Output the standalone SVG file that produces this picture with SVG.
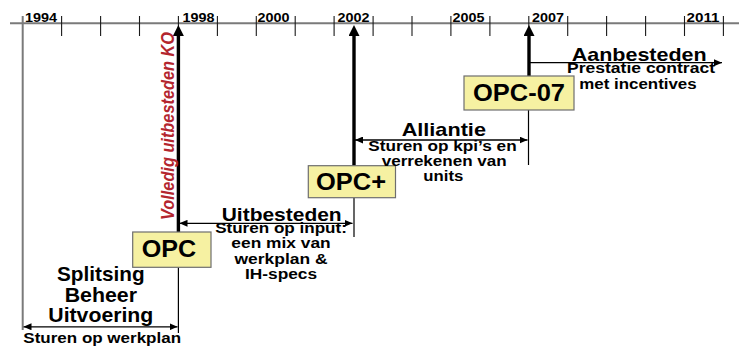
<svg xmlns="http://www.w3.org/2000/svg" width="739" height="350" viewBox="0 0 739 350">
  <defs>
    <!-- large head for the milestone arrows -->
    <marker id="bigHead" markerUnits="userSpaceOnUse" markerWidth="11" markerHeight="11" refX="1" refY="5.5" orient="auto">
      <path d="M0,0 L11,5.5 L0,11 z" fill="#000"/>
    </marker>
    <!-- small head for the period arrows -->
    <marker id="smallHead" markerUnits="userSpaceOnUse" markerWidth="8" markerHeight="7" refX="8" refY="3.5" orient="auto-start-reverse">
      <path d="M0,0 L8,3.5 L0,7 z" fill="#000"/>
    </marker>
    <style>
      .axis { stroke: #7a7a7a; stroke-width: 2; fill: none; }
      .tick { stroke: #1a1a1a; stroke-width: 1.1; }
      .yr { font: bold 13px "Liberation Sans", Arial, sans-serif; fill: #000; }
      .box { fill: #f6f1a2; stroke: #6e6e6e; stroke-width: 1.2; }
      .boxt { font: bold 24px "Liberation Sans", Arial, sans-serif; fill: #000; text-anchor: middle; }
      .thick { stroke: #000; stroke-width: 3.4; fill: none; marker-end: url(#bigHead); }
      .thin { stroke: #000; stroke-width: 1.2; fill: none; }
      .span { stroke: #000; stroke-width: 1.3; fill: none; marker-start: url(#smallHead); marker-end: url(#smallHead); }
      .one { stroke: #000; stroke-width: 1.3; fill: none; marker-end: url(#smallHead); }
      .h { font: bold 19px "Liberation Sans", Arial, sans-serif; fill: #000; text-anchor: middle; }
      .s { font: bold 14.5px "Liberation Sans", Arial, sans-serif; fill: #000; text-anchor: middle; }
      .big { font: bold 20.5px "Liberation Sans", Arial, sans-serif; fill: #000; text-anchor: middle; }
      .red { font: italic bold 16.5px "Liberation Sans", Arial, sans-serif; fill: #b3262e; }
    </style>
  </defs>

  <!-- time axis -->
  <g id="axis">
    <line class="axis" x1="10" y1="23.3" x2="739" y2="23.3"/>
    <line class="axis" x1="22.7" y1="16" x2="22.7" y2="330"/>
    <g class="tick">
      <line x1="61.6" y1="16" x2="61.6" y2="36"/>
      <line x1="100.6" y1="16" x2="100.6" y2="36"/>
      <line x1="139.5" y1="16" x2="139.5" y2="36"/>
      <line x1="178.4" y1="16" x2="178.4" y2="36"/>
      <line x1="217.4" y1="16" x2="217.4" y2="36"/>
      <line x1="256.3" y1="16" x2="256.3" y2="36"/>
      <line x1="295.2" y1="16" x2="295.2" y2="36"/>
      <line x1="334.1" y1="16" x2="334.1" y2="36"/>
      <line x1="373.1" y1="16" x2="373.1" y2="36"/>
      <line x1="412.0" y1="16" x2="412.0" y2="36"/>
      <line x1="450.9" y1="16" x2="450.9" y2="36"/>
      <line x1="489.9" y1="16" x2="489.9" y2="36"/>
      <line x1="528.8" y1="16" x2="528.8" y2="36"/>
      <line x1="567.7" y1="16" x2="567.7" y2="36"/>
      <line x1="606.6" y1="16" x2="606.6" y2="36"/>
      <line x1="645.6" y1="16" x2="645.6" y2="36"/>
      <line x1="684.5" y1="16" x2="684.5" y2="36"/>
      <line x1="723.4" y1="16" x2="723.4" y2="36"/>
    </g>
    <text class="yr" x="25" y="22.3" textLength="32" lengthAdjust="spacingAndGlyphs">1994</text>
    <text class="yr" x="182.5" y="22.3" textLength="32" lengthAdjust="spacingAndGlyphs">1998</text>
    <text class="yr" x="257.5" y="22.3" textLength="32" lengthAdjust="spacingAndGlyphs">2000</text>
    <text class="yr" x="337.5" y="22.3" textLength="32" lengthAdjust="spacingAndGlyphs">2002</text>
    <text class="yr" x="452.5" y="22.3" textLength="32" lengthAdjust="spacingAndGlyphs">2005</text>
    <text class="yr" x="532" y="22.3" textLength="32" lengthAdjust="spacingAndGlyphs">2007</text>
    <text class="yr" x="686.5" y="22.3" textLength="33" lengthAdjust="spacingAndGlyphs">2011</text>
  </g>

  <!-- milestone shafts, period arrows and guide lines -->
  <g id="connectors">
    <line class="thick" x1="178.4" y1="232" x2="178.4" y2="35"/>
    <line class="thick" x1="354" y1="165.7" x2="354" y2="35"/>
    <line class="thick" x1="529" y1="76" x2="529" y2="35"/>
    <line class="thin" x1="178.4" y1="267.3" x2="178.4" y2="333"/>
    <line class="thin" x1="354" y1="197.7" x2="354" y2="237"/>
    <line class="thin" x1="528.5" y1="110" x2="528.5" y2="165"/>
    <line class="span" x1="23.5" y1="326.8" x2="177.5" y2="326.8"/>
    <line class="span" x1="179.5" y1="223.3" x2="352.5" y2="223.3"/>
    <line class="span" x1="355" y1="140" x2="527.5" y2="140"/>
    <line class="one" x1="529" y1="62.7" x2="722" y2="62.7"/>
  </g>

  <!-- contract forms -->
  <g id="opc">
    <rect class="box" x="132.7" y="232" width="78.3" height="35.3"/>
    <text class="boxt" x="169" y="257" textLength="54.5" lengthAdjust="spacingAndGlyphs">OPC</text>
  </g>
  <g id="opc-plus">
    <rect class="box" x="308.3" y="165.7" width="87.2" height="32"/>
    <text class="boxt" x="351" y="190" textLength="70" lengthAdjust="spacingAndGlyphs">OPC+</text>
  </g>
  <g id="opc-07">
    <rect class="box" x="464" y="76" width="110" height="34"/>
    <text class="boxt" x="519" y="100.6" textLength="92" lengthAdjust="spacingAndGlyphs">OPC-07</text>
  </g>

  <!-- vertical annotation on the 1998 milestone -->
  <g id="ko-label">
    <text class="red" transform="translate(174.3,220) scale(1.14,1) rotate(-90)" x="0" y="0" textLength="188" lengthAdjust="spacingAndGlyphs">Volledig uitbesteden KO</text>
  </g>

  <!-- period: split between management and execution -->
  <g id="splitsing">
    <text class="big" x="100.8" y="281" textLength="87.6" lengthAdjust="spacingAndGlyphs">Splitsing</text>
    <text class="big" x="100.8" y="301.7" textLength="72.3" lengthAdjust="spacingAndGlyphs">Beheer</text>
    <text class="big" x="100.8" y="321.7" textLength="105" lengthAdjust="spacingAndGlyphs">Uitvoering</text>
    <text class="s" x="102.2" y="342.8" textLength="157.7" lengthAdjust="spacingAndGlyphs">Sturen op werkplan</text>
  </g>

  <!-- period: outsourcing -->
  <g id="uitbesteden">
    <text class="h" x="281.7" y="220.7" textLength="120" lengthAdjust="spacingAndGlyphs">Uitbesteden</text>
    <text class="s" x="281" y="232.5" textLength="131.7" lengthAdjust="spacingAndGlyphs">Sturen op input:</text>
    <text class="s" x="281" y="248" textLength="99.3" lengthAdjust="spacingAndGlyphs">een mix van</text>
    <text class="s" x="281" y="263.7" textLength="93" lengthAdjust="spacingAndGlyphs">werkplan &amp;</text>
    <text class="s" x="281" y="279" textLength="72" lengthAdjust="spacingAndGlyphs">IH-specs</text>
  </g>

  <!-- period: alliance -->
  <g id="alliantie">
    <text class="h" x="443.8" y="136" textLength="84.3" lengthAdjust="spacingAndGlyphs">Alliantie</text>
    <text class="s" x="442.5" y="150.7" textLength="148.3" lengthAdjust="spacingAndGlyphs">Sturen op kpi’s en</text>
    <text class="s" x="444.2" y="166.3" textLength="125" lengthAdjust="spacingAndGlyphs">verrekenen van</text>
    <text class="s" x="443.3" y="180.7" textLength="40" lengthAdjust="spacingAndGlyphs">units</text>
  </g>

  <!-- period: tendering -->
  <g id="aanbesteden">
    <text class="h" x="639.2" y="60.5" textLength="135" lengthAdjust="spacingAndGlyphs">Aanbesteden</text>
    <text class="s" x="641" y="73.3" textLength="148" lengthAdjust="spacingAndGlyphs">Prestatie contract</text>
    <text class="s" x="638" y="89.3" textLength="117.3" lengthAdjust="spacingAndGlyphs">met incentives</text>
  </g>
</svg>
